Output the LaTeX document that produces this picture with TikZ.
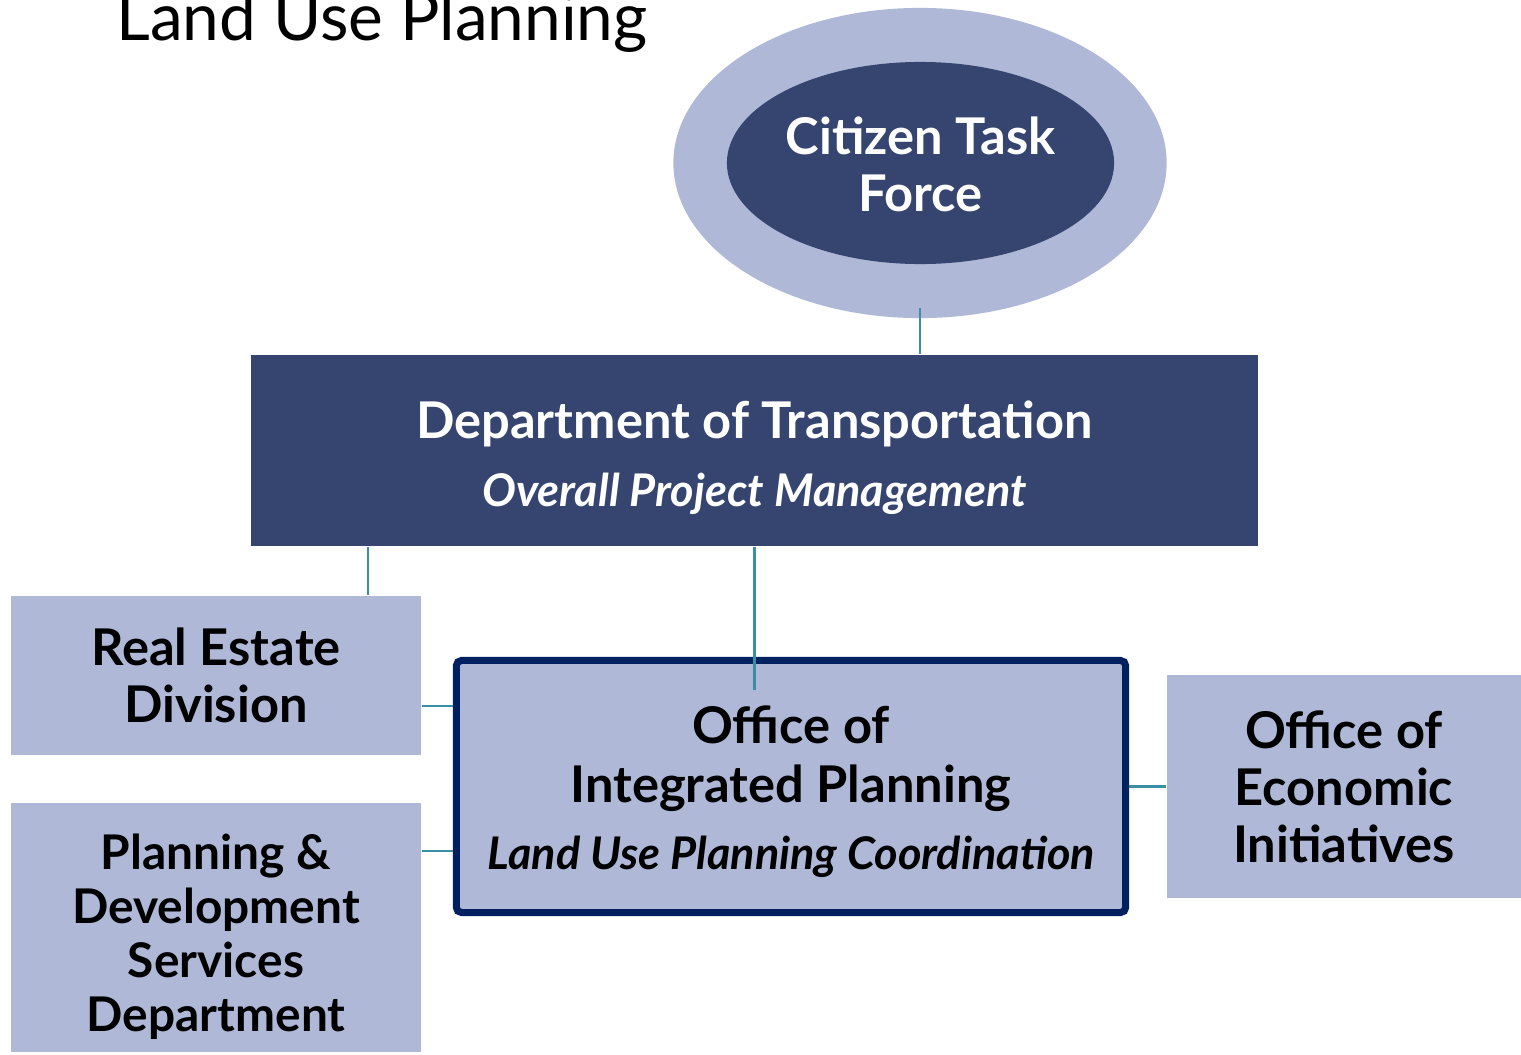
\documentclass[tikz,border=0pt]{standalone}
\usepackage{fontspec}
\setmainfont{Lato}
\usetikzlibrary{shapes,positioning}

\definecolor{navy}{RGB}{54,68,112}
\definecolor{lavender}{RGB}{175,185,215}
\definecolor{linkteal}{RGB}{58,143,165}
\definecolor{framenavy}{RGB}{0,32,96}

\newcommand{\titlefont}{\fontsize{18.7}{22}\selectfont}
\newcommand{\boxfont}{\fontsize{14.4}{16.2}\selectfont\bfseries}
\newcommand{\tightfont}{\fontsize{13.6}{15.4}\selectfont\bfseries}
\newcommand{\subfont}{\fontsize{12.8}{15}\selectfont\bfseries\itshape}

\begin{document}
\begin{tikzpicture}[x=0.01cm,y=-0.01cm]
	  \tikzstyle{light box}=[rectangle,fill=lavender,inner sep=0pt,align=center,font=\boxfont]
	  \tikzstyle{dark box}=[light box,fill=navy,text=white]
	  \tikzstyle{frame box}=[light box,draw=framenavy,line width=2pt,rounded corners=1.5pt]
	  \tikzstyle{box text}=[inner sep=0pt,align=center,font=\boxfont]
	  \tikzstyle{link}=[draw=linkteal,line width=0.6pt]

		\useasboundingbox (0,0) rectangle (1521,1054);

		\node[anchor=base west,font=\titlefont] (title) at (104,40) {Land Use Planning};

		\node[ellipse,fill=lavender,minimum width=4.93cm,minimum height=3.10cm] (taskring) at (920,163) {};
		\node[ellipse,fill=navy,minimum width=3.87cm,minimum height=2.02cm] (citizen) at (920.5,163) {};
		\node[box text,text=white] (citizentext) at ([yshift=-0.01cm]citizen.center) {Citizen Task\\Force};

		\node[dark box,minimum width=10.07cm,minimum height=1.91cm] (dot) at (754.5,450.5) {};
		\node[box text,text=white] (dottext) at ([yshift=-0.07cm]dot.center)
		      {Department of Transportation\\[3pt]{\subfont Overall Project Management}};

		\node[light box,minimum width=4.10cm,minimum height=1.59cm] (realestate) at (216,675.5) {Real Estate\\Division};
		\node[light box,minimum width=4.10cm,minimum height=2.49cm] (planning) at (216,927.5) {};
		\node[box text,font=\tightfont] (planningtext) at ([yshift=-0.09cm]planning.center)
		      {Planning \&\\Development\\Services\\Department};

		\node[frame box,minimum width=6.69cm,minimum height=2.52cm] (oip) at (791,786.5) {};
		\node[box text] (oiptext) at ([yshift=-0.05cm]oip.center)
		      {Office of\\[0.6pt]Integrated Planning\\[3pt]{\subfont Land Use Planning Coordination}};

		\node[light box,minimum width=3.54cm,minimum height=2.23cm] (econ) at (1344,786.5)
		      {Office of\\Economic\\Initiatives};

		\draw[link] ([yshift=0.11cm]taskring.south) -- (dot.north -| taskring.south);
		\draw[link] ([xshift=-0.54cm]realestate.north east) -- ([xshift=-0.54cm]realestate.north east |- dot.south);
		\draw[link] (dot.south) -- ([yshift=-0.33cm]dot.south |- oip.north);
		\draw[link] (realestate.east |- 0,706) -- (oip.west |- 0,706);
		\draw[link] (planning.east |- 0,851) -- (oip.west |- 0,851);
		\draw[link] (oip.east) -- (econ.west);

	\end{tikzpicture}
\end{document}
